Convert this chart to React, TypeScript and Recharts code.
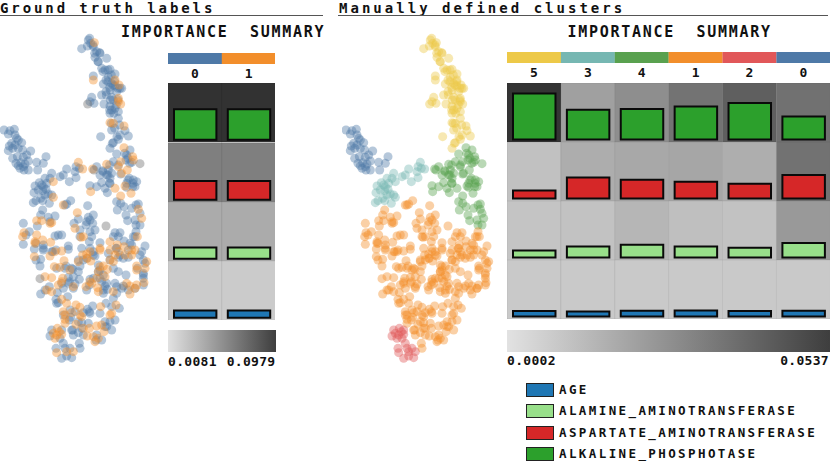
import { Bar, BarChart, Cell, Scatter, ScatterChart, XAxis, YAxis, ZAxis } from "recharts";

type Point = [number, number, number];

const FONT = '"DejaVu Sans Mono", monospace';

// embedding coordinates per manual cluster: [x, y, ground truth label], label 2 = unknown
const CLUSTER_0: Point[] = [
  [12,390,0],[30,392,0],[43,388,0],[25,402,0],[45,405,0],[50,415,0],[55,420,0],[35,430,0],[28,438,0],[45,435,0],[65,428,0],
  [38,445,0],[25,452,0],[55,445,0],[68,450,0],[92,453,0],[80,465,0],[38,475,0],[52,470,0],[70,472,0],[62,488,0],[48,490,0],
  [55,497,0],[70,500,0],[85,510,0],[110,487,0],[130,490,0],[138,470,0],[113,510,0],[75,492,0],[85,483,0],[60,505,0],[72,510,0],
];
const CLUSTER_1: Point[] = [
  [200,612,0],[212,602,0],[195,615,0],[190,615,1],[263,617,0],
  [128,630,0],[122,645,0],[232,638,1],[145,652,0],[165,648,0],[150,665,0],[150,670,1],[110,662,1],[125,662,1],[155,668,1],[70,670,0],[112,678,0],[222,670,0],[235,657,0],[265,652,0],[280,645,0],[270,660,0],[258,675,0],[278,670,0],[318,678,2],
  [225,685,1],[240,690,0],[250,710,1],[243,712,1],[285,690,0],[175,705,0],[185,705,0],[165,708,0],[88,695,0],[78,705,0],[72,698,1],[68,710,1],[110,705,1],[70,733,0],[105,725,1],[128,720,1],[130,735,0],[152,727,1],[108,730,0],[103,747,0],[130,750,0],[268,725,0],[300,728,0],[275,710,0],[345,698,0],[340,710,0],[360,698,0],[330,725,1],[372,723,0],[400,710,0],[408,695,0],[395,735,0],[412,710,1],[352,735,1],
  [205,738,0],[205,748,0],[245,745,0],[270,745,0],[300,745,1],[280,755,0],[260,762,1],[248,765,1],[262,775,1],[272,783,1],[285,768,0],[325,760,0],[330,750,1],[348,745,0],[372,740,1],[375,765,1],[395,750,1],[405,750,1],[435,738,0],[425,755,0],[420,765,0],[158,755,0],[168,750,0],[185,753,1],[165,755,1],[150,768,1],[103,770,1],[108,780,0],[122,778,0],[235,780,0],[345,765,1],[360,765,0],[385,772,0],[330,780,1],[340,785,1],[355,772,0],[430,780,0],[440,785,1],[192,782,1],
  [120,798,0],[163,800,1],[180,802,1],[198,798,0],[218,808,0],[195,805,0],[240,798,0],[235,815,0],[220,830,0],[210,810,1],[295,795,0],[310,798,1],[322,808,1],[300,810,0],[295,815,1],[340,805,0],[355,815,0],[378,825,0],[410,798,1],[412,805,0],[435,805,1],[430,820,0],[120,836,2],[135,830,1],[155,833,1],[280,835,0],[270,838,0],[300,835,0],[315,830,1],[188,835,1],[205,832,0],[238,838,0],[430,835,0],
  [185,850,0],[175,855,1],[208,845,0],[220,860,1],[225,852,0],[293,863,1],[275,850,1],[258,860,1],[268,855,0],[315,858,0],[322,868,0],[310,870,0],[345,850,0],[350,860,0],[370,858,2],[390,858,1],[380,850,1],[405,865,0],[410,855,1],[432,848,1],[148,860,0],[135,870,0],[122,882,0],[155,875,1],[172,878,0],
  [390,882,1],[350,880,0],[340,895,0],[203,890,0],[168,898,0],[175,908,0],[185,898,1],[200,910,1],[228,915,1],[240,922,1],[318,910,0],[302,920,1],[335,920,0],[348,915,1],[358,925,0],[278,918,0],[262,928,0],[268,935,0],[190,935,1],[210,930,0],[215,938,1],[195,945,1],[335,940,1],[240,945,1],[250,938,0],
  [212,952,0],[208,960,0],[195,958,1],[228,973,1],[245,968,0],[245,985,0],[265,970,0],[268,985,1],[290,978,1],[305,975,1],[315,965,0],[330,965,0],[345,960,0],[320,980,0],[335,990,0],[312,995,1],[290,1005,0],[295,1015,1],[280,1010,1],[288,1020,0],[305,1020,0],[218,990,0],[220,1005,0],[235,998,0],[250,1005,0],[262,1008,1],[238,1030,0],
  [270,755,1],[280,765,0],[260,775,0],[300,750,1],[250,780,0],[300,800,1],[295,815,0],[310,825,0],[290,835,1],[305,845,0],[320,850,0],[270,845,1],[260,870,0],[295,875,1],[310,880,0],[355,755,1],[370,775,0],[385,750,0],[395,765,1],[350,745,0],[330,780,0],[340,875,1],[365,865,0],[385,870,0],[405,865,1],[430,855,0],[410,810,1],[430,825,0],[435,790,0],[185,845,1],[205,850,0],[220,865,0],[190,865,0],[140,870,1],[170,910,0],[225,935,0],[245,950,1],[235,965,0],[190,945,0],[195,970,1],[215,990,0],[250,985,1],[270,940,0],[300,940,0],[330,945,1],[315,980,0],[285,1025,1],[240,1045,0],[170,805,0],[215,805,0],[235,785,1],[155,755,0],[130,745,0],[105,730,1],[260,665,0],[270,695,0],[240,710,0],[355,710,0],[390,730,0],[405,710,0],
];
const CLUSTER_2: Point[] = [
  [155,990,0],[150,1008,0],[172,985,1],[185,990,0],[170,1005,1],[185,1003,1],[165,1015,1],[190,1030,0],[168,1045,0],[170,1058,1],
  [195,1045,0],[210,1045,0],[200,1055,1],[220,1055,1],[185,1075,0],[215,1073,0],[200,1068,0],[160,1000,1],[178,995,1],[180,1015,0],
];
const CLUSTER_3: Point[] = [
  [235,487,1],[248,507,1],[238,505,0],[228,500,0],[225,515,0],[228,533,0],[208,545,0],[200,507,0],[190,525,0],[180,530,0],[155,520,0],
  [150,535,0],[160,545,1],[135,535,0],[118,548,0],[105,558,0],[130,560,0],[140,550,0],[102,578,0],[128,572,0],[145,582,0],[135,585,0],
  [155,585,0],[122,595,0],[160,592,1],[100,608,0],[108,602,0],[128,602,0],[148,610,0],[125,555,0],[115,570,0],[138,568,0],
];
const CLUSTER_4: Point[] = [
  [350,462,0],[372,443,1],[380,465,0],[390,450,0],[398,470,1],[400,480,1],[420,491,2],[340,485,0],[355,495,0],[378,480,0],[395,487,0],
  [362,485,1],[362,522,0],[325,510,0],[308,512,0],[290,500,0],[282,510,2],[300,525,0],[320,525,0],[330,535,0],[335,520,0],[320,493,1],
  [355,500,1],[382,510,1],[365,520,1],[278,507,1],[270,557,0],[305,548,0],[330,550,0],[388,535,0],[400,540,0],[410,545,0],[398,560,0],
  [380,550,0],[290,560,0],[315,565,0],[345,565,1],[375,558,1],[272,575,1],[322,578,0],[380,562,0],[405,560,0],[362,588,1],[393,580,1],
  [350,605,0],[362,610,0],[372,620,0],[352,630,0],[408,615,0],[395,625,0],[415,612,0],[415,628,1],[425,655,1],[378,645,0],[383,662,0],
  [405,660,0],[420,640,0],[408,675,0],[420,675,0],[374,460,0],[384,475,0],[389,490,0],[329,495,0],[309,515,0],[324,525,0],[329,550,0],[384,540,0],[399,550,0],
];
const CLUSTER_5: Point[] = [
  [265,120,0],[272,130,0],[245,146,0],[262,138,0],[283,128,1],[280,140,0],[290,155,0],[300,160,0],[285,172,0],[295,185,0],[320,175,0],
  [305,205,0],[315,210,0],[330,208,0],[345,222,0],[325,232,0],[318,240,0],[310,252,0],[335,250,0],[345,258,0],[360,265,0],[350,275,0],
  [330,270,0],[280,228,0],[280,240,1],[345,240,1],[357,255,1],[305,285,0],[318,275,0],[335,292,0],[275,292,0],[270,305,0],[263,312,2],
  [282,310,0],[312,312,0],[330,318,0],[345,325,0],[362,312,1],[355,335,0],[335,330,0],[355,295,1],[355,305,1],[365,265,0],[355,355,0],
  [340,370,1],[330,368,1],[372,378,1],[335,390,0],[375,392,0],[385,408,0],[360,405,0],[355,418,0],[302,410,0],[340,428,0],[330,445,0],
  [269,115,0],[279,135,0],[284,160,0],[299,158,0],[294,185,0],[309,215,0],[324,210,0],[334,225,0],[344,245,0],[354,265,0],[324,245,0],[339,255,0],[329,262,0],[319,285,0],[331,300,0],[354,300,0],[349,315,0],[329,330,0],[341,340,0],[330,340,0],[340,300,0],[334,370,0],[344,385,0],[351,410,0],[337,430,0],[359,375,0],
];

const LABEL_COLORS = ["#4e79a7", "#f28e2b", "#6f6f6f"];
const LEFT_COLUMNS = ["0", "1"];
const RIGHT_COLUMNS = ["5", "3", "4", "1", "2", "0"];
const COLUMN_COLORS: Record<string, string> = {
  "0": "#4e79a7",
  "1": "#f28e2b",
  "2": "#e15759",
  "3": "#76b7b2",
  "4": "#59a14f",
  "5": "#edc948",
};
const CLUSTERS: [string, Point[]][] = [
  ["5", CLUSTER_5],
  ["3", CLUSTER_3],
  ["4", CLUSTER_4],
  ["1", CLUSTER_1],
  ["2", CLUSTER_2],
  ["0", CLUSTER_0],
];

const FEATURES = ["AGE", "ALAMINE_AMINOTRANSFERASE", "ASPARTATE_AMINOTRANSFERASE", "ALKALINE_PHOSPHOTASE"];
const FEATURE_COLORS = ["#1f77b4", "#98df8a", "#d62728", "#2ca02c"];

// rows top to bottom: phosphotase, aspartate, alamine, age
const ROW_COLORS = ["#2ca02c", "#d62728", "#98df8a", "#1f77b4"];
const LEFT_HEIGHTS = [
  [30.4, 30.4],
  [18.7, 18.7],
  [11.3, 11.3],
  [7.3, 7.3],
];
const LEFT_SHADES = [
  ["#323232", "#323232"],
  ["#7f7f7f", "#7f7f7f"],
  ["#ababab", "#ababab"],
  ["#cbcbcb", "#cbcbcb"],
];
const RIGHT_HEIGHTS = [
  [46, 29.7, 30.3, 33, 36.3, 23],
  [8, 21, 18.7, 16.7, 14.7, 23.3],
  [7, 11, 12.7, 11, 9.7, 14.3],
  [5.3, 5, 5.7, 6, 5.3, 5.7],
];
const RIGHT_SHADES = [
  ["#343434", "#a0a0a0", "#8e8e8e", "#737373", "#5f5f5f", "#717171"],
  ["#c1c1c1", "#adadad", "#a8a8a8", "#a6a6a6", "#aeaeae", "#727272"],
  ["#c4c4c4", "#c2c2c2", "#b6b6b6", "#bfbfbf", "#c2c2c2", "#999999"],
  ["#c9c9c9", "#c9c9c9", "#c9c9c9", "#c9c9c9", "#c9c9c9", "#c9c9c9"],
];
const LEFT_RANGE = ["0.0081", "0.0979"];
const RIGHT_RANGE = ["0.0002", "0.0537"];

const toXY = (list: Point[]) => list.map(([x, y]) => ({ x, y }));
const ALL_POINTS = [...CLUSTER_0, ...CLUSTER_1, ...CLUSTER_2, ...CLUSTER_3, ...CLUSTER_4, ...CLUSTER_5];

function Embedding({ left, series }: { left: number; series: { key: string; color: string; points: Point[] }[] }) {
  return (
    <div style={{ position: "absolute", left, top: 0, filter: "blur(0.5px)" }}>
      <ScatterChart width={165} height={380} margin={{ top: 0, right: 0, bottom: 0, left: 0 }}>
        <XAxis type="number" dataKey="x" domain={[0, 495]} hide />
        <YAxis type="number" dataKey="y" domain={[0, 1140]} reversed hide />
        <ZAxis range={[44, 44]} />
        {series.map((s) => (
          <Scatter
            key={s.key}
            data={toXY(s.points)}
            fill={s.color}
            fillOpacity={0.42}
            stroke="none"
            isAnimationActive={false}
          />
        ))}
      </ScatterChart>
    </div>
  );
}

function HeaderStrip({ left, top, width, columns }: { left: number; top: number; width: number; columns: string[] }) {
  const data = columns.map((name) => ({ name, v: 1 }));
  return (
    <div style={{ position: "absolute", left, top }}>
      <BarChart width={width} height={30} data={data} barCategoryGap={0} margin={{ top: 0, right: 0, bottom: 0, left: 0 }}>
        <XAxis
          dataKey="name"
          height={19}
          axisLine={false}
          tickLine={false}
          tickMargin={0}
          interval={0}
          tick={{ fontFamily: FONT, fontSize: 13, fontWeight: 700, fill: "#111", dy: -1.5 }}
        />
        <YAxis domain={[0, 1]} hide />
        <Bar dataKey="v" isAnimationActive={false}>
          {columns.map((c) => (
            <Cell key={c} fill={COLUMN_COLORS[c]} />
          ))}
        </Bar>
      </BarChart>
    </div>
  );
}

function ImportanceRow(props: {
  left: number;
  top: number;
  width: number;
  height: number;
  columns: string[];
  heights: number[];
  shades: string[];
  color: string;
}) {
  const { left, top, width, height, columns, heights, shades, color } = props;
  const data = columns.map((name, i) => ({ name, cell: 1, value: heights[i] }));
  const barWidth = width / columns.length - 11.4;
  return (
    <div style={{ position: "absolute", left, top }}>
      <BarChart width={width} height={height} data={data} barCategoryGap={0} margin={{ top: 0, right: 0, bottom: 0, left: 0 }}>
        <XAxis xAxisId="cell" dataKey="name" hide />
        <XAxis xAxisId="bar" dataKey="name" hide />
        <YAxis yAxisId="cell" domain={[0, 1]} hide />
        <YAxis yAxisId="bar" domain={[-2.6, height - 2.6]} hide />
        <Bar xAxisId="cell" yAxisId="cell" dataKey="cell" isAnimationActive={false} stroke="#00000012">
          {shades.map((s, i) => (
            <Cell key={i} fill={s} />
          ))}
        </Bar>
        <Bar
          xAxisId="bar"
          yAxisId="bar"
          dataKey="value"
          barSize={barWidth}
          fill={color}
          stroke="#0a0a0a"
          strokeWidth={2}
          isAnimationActive={false}
        />
      </BarChart>
    </div>
  );
}

function ColorBar({ id, left, top, width, height }: { id: string; left: number; top: number; width: number; height: number }) {
  return (
    <div style={{ position: "absolute", left, top }}>
      <BarChart width={width} height={height} data={[{ name: "scale", v: 1 }]} barCategoryGap={0} margin={{ top: 0, right: 0, bottom: 0, left: 0 }}>
        <defs>
          <linearGradient id={id} x1="0" y1="0" x2="1" y2="0">
            <stop offset="0%" stopColor="#e2e2e2" />
            <stop offset="100%" stopColor="#3e3e3e" />
          </linearGradient>
        </defs>
        <XAxis dataKey="name" hide />
        <YAxis domain={[0, 1]} hide />
        <Bar dataKey="v" fill={`url(#${id})`} isAnimationActive={false} />
      </BarChart>
    </div>
  );
}

function Label({ x, y, text, size, spacing, anchor }: { x: number; y: number; text: string; size: number; spacing: number; anchor?: "right" }) {
  const pos = anchor === "right" ? { right: 830 - x } : { left: x };
  return (
    <div
      style={{
        position: "absolute",
        top: y,
        ...pos,
        fontFamily: FONT,
        fontSize: size,
        fontWeight: 700,
        letterSpacing: spacing,
        lineHeight: "16px",
        color: "#111",
        whiteSpace: "pre",
      }}
    >
      {text}
    </div>
  );
}

const LEFT_ROW_TOPS = [83.3, 142.7, 201.7, 261];
const RIGHT_ROW_TOPS = [82.7, 141.7, 200.7, 260];

export default function App() {
  const leftSeries = LABEL_COLORS.map((color, label) => ({
    key: String(label),
    color,
    points: ALL_POINTS.filter((p) => p[2] === label),
  }));
  const rightSeries = CLUSTERS.map(([key, points]) => ({ key, color: COLUMN_COLORS[key], points }));

  return (
    <div style={{ position: "absolute", left: 0, top: 0, width: 830, height: 461, overflow: "hidden", background: "#fff" }}>
      <Label x={0} y={0} text="Ground truth labels" size={14} spacing={2.9} />
      <Label x={339} y={0} text="Manually defined clusters" size={14} spacing={3.02} />
      <div style={{ position: "absolute", left: 0, top: 14.5, width: 323, height: 1.5, background: "#555" }} />
      <div style={{ position: "absolute", left: 338, top: 14.5, width: 490, height: 1.5, background: "#555" }} />
      <Label x={121} y={24} text="IMPORTANCE  SUMMARY" size={15} spacing={1.72} />
      <Label x={567.5} y={24} text="IMPORTANCE  SUMMARY" size={15} spacing={1.72} />

      <Embedding left={0} series={leftSeries} />
      <Embedding left={341.7} series={rightSeries} />

      <HeaderStrip left={167.7} top={53.3} width={107.6} columns={LEFT_COLUMNS} />
      <HeaderStrip left={506.7} top={52.3} width={323.3} columns={RIGHT_COLUMNS} />

      {ROW_COLORS.map((color, i) => (
        <ImportanceRow
          key={`l${i}`}
          left={167.7}
          top={LEFT_ROW_TOPS[i]}
          width={107.6}
          height={59.3}
          columns={LEFT_COLUMNS}
          heights={LEFT_HEIGHTS[i]}
          shades={LEFT_SHADES[i]}
          color={color}
        />
      ))}
      {ROW_COLORS.map((color, i) => (
        <ImportanceRow
          key={`r${i}`}
          left={506.7}
          top={RIGHT_ROW_TOPS[i]}
          width={323.3}
          height={59}
          columns={RIGHT_COLUMNS}
          heights={RIGHT_HEIGHTS[i]}
          shades={RIGHT_SHADES[i]}
          color={color}
        />
      ))}

      <ColorBar id="leftScale" left={167.7} top={330} width={108} height={22} />
      <ColorBar id="rightScale" left={506.7} top={329.5} width={323.3} height={22} />
      <Label x={168} y={353.5} text={LEFT_RANGE[0]} size={13} spacing={0.3} />
      <Label x={275.5} y={353.5} text={LEFT_RANGE[1]} size={13} spacing={0.3} anchor="right" />
      <Label x={507} y={352.5} text={RIGHT_RANGE[0]} size={13} spacing={0.3} />
      <Label x={829} y={352.5} text={RIGHT_RANGE[1]} size={13} spacing={0.3} anchor="right" />

      {FEATURES.map((name, i) => (
        <div key={name}>
          <div
            style={{
              position: "absolute",
              left: 526,
              top: 383 + i * 21.4,
              width: 26,
              height: 12,
              background: FEATURE_COLORS[i],
              border: "1px solid #222",
            }}
          />
          <Label x={559} y={382 + i * 21.3} text={name} size={12.5} spacing={2.4} />
        </div>
      ))}
    </div>
  );
}
